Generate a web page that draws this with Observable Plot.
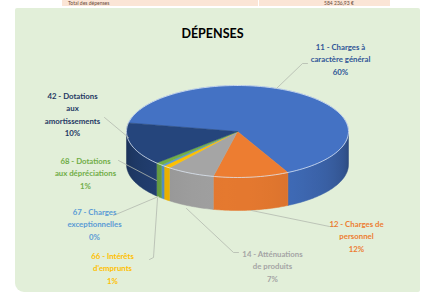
<!DOCTYPE html>
<html>
<head>
<meta charset="utf-8">
<script src="https://cdn.jsdelivr.net/npm/d3@7"></script>
<script src="https://cdn.jsdelivr.net/npm/@observablehq/plot@0.6"></script>
<style>
  html, body { margin: 0; padding: 0; background: #ffffff; }
  #page { position: relative; width: 422px; height: 295px; overflow: hidden; background: #fff; }
  #strip { position: absolute; left: 62px; top: 0; width: 328px; height: 6px; background: #fbe5d6; overflow: hidden;
           font: 5px/6px Lato, "Open Sans", sans-serif; color: #6a4a3a; }
  #strip .l { position: absolute; left: 6px; top: 0; }
  #strip .r { position: absolute; left: 262px; top: 0; }
  #strip .div { position: absolute; left: 196px; top: 0; width: 1px; height: 6px; background: #fff; }
  #panel { position: absolute; left: 15px; top: 8px; width: 405px; height: 284px; background: #e2efd9; border-radius: 2px 2px 2px 9px; }
  #chart { position: absolute; left: 0; top: 0; }
</style>
</head>
<body>
<div id="page">
  <div id="strip"><span class="l">Total des dépenses</span><span class="div"></span><span class="r">584 236,93 €</span></div>
  <div id="panel"></div>
  <div id="chart"></div>
</div>
<script>
// ---------- data ----------
const title = "DÉPENSES";
const categories = ["11", "12", "14", "66", "67", "68", "42"];
const labelNameLines = [
  ["11 - Charges à", "caractère général"],
  ["12 - Charges de", "personnel"],
  ["14 - Atténuations", "de produits"],
  ["66 - Intérêts", "d'emprunts"],
  ["67 - Charges", "exceptionnelles"],
  ["68 - Dotations", "aux dépréciations"],
  ["42 - Dotations", "aux", "amortissements"]
];
const percentLabels = ["60%", "12%", "7%", "1%", "0%", "1%", "10%"];
// slice shares as drawn
const shares = [64.5, 11, 7, 1, 0.5, 1, 15];

// ---------- styles / layout ----------
const W = 422, H = 295;
const sliceColors = ["#4472c4", "#ed7d31", "#a5a5a5", "#ffc000", "#5b9bd5", "#70ad47", "#25457c"];
const labelColors = ["#2f5597", "#ed7d31", "#a5a5a5", "#ffc000", "#5b9bd5", "#70ad47", "#1f3864"];
const labelPos = [[340, 47], [356, 224], [272, 254], [112, 256], [94, 212], [85, 161], [72, 96]];
const lineStep = 12.3;
const leaders = [
  [[276, 88], [302, 63], [307, 63]],
  [[251, 210], [329, 226], [334, 226]],
  [[186, 208], [233, 252], [238, 252]],
  [[157, 198], [153, 257], [149, 259]],
  [[158, 196], [113, 215]],
  [[156, 180], [118, 160]],
  [[128, 137], [104, 117]]
];
const cx = 237, cy = 131, rx = 111, ry = 46, depth = 33;
const startDeg = 280.8;

// ---------- geometry ----------
const rad = d => d * Math.PI / 180;
const P = (deg, z) => [cx + rx * Math.sin(rad(deg)), cy - ry * Math.cos(rad(deg)) + z * depth];
const total = d3.sum(shares);
let acc = startDeg;
const slices = shares.map((v, i) => {
  const a0 = acc, a1 = acc + v / total * 360;
  acc = a1;
  return {i, a0, a1};
});

const topRows = [], sideRows = [], rimRows = [];
const gradients = [];
slices.forEach(s => {
  const id = "top" + s.i;
  const n = Math.max(2, Math.ceil(s.a1 - s.a0));
  topRows.push({id, x: cx, y: cy, c: sliceColors[s.i]});
  for (let k = 0; k <= n; k++) {
    const [x, y] = P(s.a0 + (s.a1 - s.a0) * k / n, 0);
    topRows.push({id, x, y, c: sliceColors[s.i]});
  }
  topRows.push({id, x: cx, y: cy, c: sliceColors[s.i]});
  // sides: visible front half (90..270 deg), shaded with a horizontal gradient
  const base = d3.color(sliceColors[s.i]);
  const dark = base.darker(1.25), light = base.darker(0.1);
  const gid = "sideGrad" + s.i;
  const stops = d3.range(90, 271, 6).map(a => {
    const t = Math.pow(Math.max(0, Math.cos(rad(a - 185))), 0.8);
    return {offset: (1 - Math.sin(rad(a))) / 2, color: d3.interpolateRgb(dark, light)(t)};
  });
  gradients.push({gid, stops});
  for (const off of [0, 360]) {
    const lo = Math.max(s.a0, 90 + off), hi = Math.min(s.a1, 270 + off);
    if (lo >= hi) continue;
    const sid = `side${s.i}_${off}`;
    const m = Math.max(2, Math.ceil(hi - lo));
    const pts = [];
    for (let k = 0; k <= m; k++) pts.push(P(lo + (hi - lo) * k / m, 0));
    for (let k = m; k >= 0; k--) pts.push(P(lo + (hi - lo) * k / m, 1));
    pts.push(pts[0]);
    pts.forEach(([x, y]) => sideRows.push({id: sid, x, y, c: `url(#${gid})`}));
  }
});
for (let d = 0; d <= 360; d += 2) { const [x, y] = P(d, 0); rimRows.push({x, y}); }

const leaderRows = leaders.flatMap((pts, i) => pts.map(([x, y]) => ({id: i, x, y})));
const labelRows = labelNameLines.flatMap((lines, i) =>
  [...lines, percentLabels[i]].map((t, k) => ({
    t, x: labelPos[i][0], y: labelPos[i][1] + k * lineStep, c: labelColors[i]
  })));

const chart = Plot.plot({
  width: W, height: H, margin: 0,
  x: {domain: [0, W], range: [0, W], axis: null},
  y: {domain: [0, H], range: [0, H], axis: null},
  color: {type: "identity"},
  style: {background: "transparent", fontFamily: "Lato, 'Open Sans', sans-serif"},
  marks: [
    Plot.line(sideRows, {x: "x", y: "y", z: "id", fill: "c", stroke: "c", strokeWidth: 0.5}),
    Plot.line(topRows, {x: "x", y: "y", z: "id", fill: "c", stroke: "c", strokeWidth: 0.5}),
    Plot.line(rimRows, {x: "x", y: "y", stroke: "#dfe8f6", strokeWidth: 1, strokeOpacity: 0.75}),
    Plot.line(leaderRows, {x: "x", y: "y", z: "id", stroke: "#b3b9ae", strokeWidth: 0.8}),
    Plot.text(labelRows, {x: "x", y: "y", text: "t", fill: "c", fontSize: 7.8, fontWeight: "bold", textAnchor: "middle", lineAnchor: "middle"}),
    Plot.text([{t: title, x: 212, y: 33}], {x: "x", y: "y", text: "t", fill: "#000", fontSize: 12.5, fontWeight: "bold", textAnchor: "middle", lineAnchor: "middle"})
  ]
});
// gradient definitions for the pie sides
const ns = "http://www.w3.org/2000/svg";
const defs = document.createElementNS(ns, "defs");
gradients.forEach(g => {
  const lg = document.createElementNS(ns, "linearGradient");
  lg.setAttribute("id", g.gid);
  lg.setAttribute("gradientUnits", "userSpaceOnUse");
  lg.setAttribute("x1", cx + rx); lg.setAttribute("x2", cx - rx);
  lg.setAttribute("y1", 0); lg.setAttribute("y2", 0);
  g.stops.forEach(st => {
    const s = document.createElementNS(ns, "stop");
    s.setAttribute("offset", st.offset);
    s.setAttribute("stop-color", st.color);
    lg.appendChild(s);
  });
  defs.appendChild(lg);
});
chart.insertBefore(defs, chart.firstChild);
document.getElementById("chart").appendChild(chart);
</script>
</body>
</html>
